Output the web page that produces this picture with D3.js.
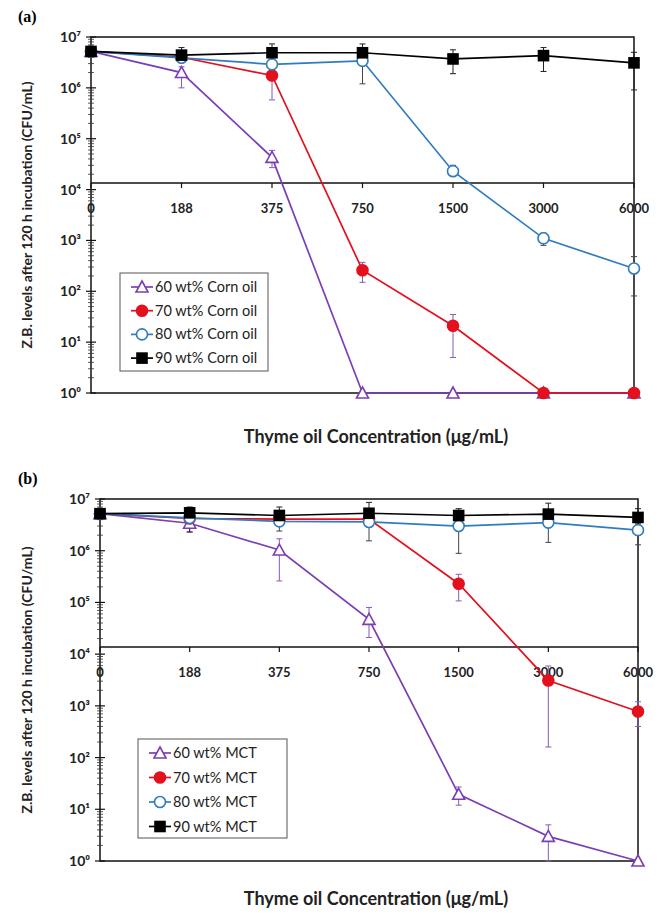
<!DOCTYPE html>
<html>
<head>
<meta charset="utf-8">
<script src="https://cdn.jsdelivr.net/npm/d3@7"></script>
<style>
  body { margin: 0; background: #fff; }
  text { font-family: Lato, "Open Sans", sans-serif; }
</style>
</head>
<body>
<svg id="chart" width="664" height="914"></svg>
<script>
// categories (thyme oil concentration, ug/mL)
var concentrations = ['0', '188', '375', '750', '1500', '3000', '6000'];
var yTicks = [1, 10, 100, 1000, 10000, 100000, 1000000, 10000000];

// panel (a) corn oil
var cornLabels = ['60 wt% Corn oil', '70 wt% Corn oil', '80 wt% Corn oil', '90 wt% Corn oil'];
var corn60 = [5.2e6, 2.0e6, 4.3e4, 1, 1, 1, 1];
var corn60Lo = [null, 1.0e6, 2.7e4, null, null, null, null];
var corn60Hi = [null, 2.6e6, 5.9e4, null, null, null, null];
var corn70 = [5.2e6, 4.0e6, 1.75e6, 260, 21, 1, 1];
var corn70Lo = [null, null, 5.8e5, 150, 5, null, null];
var corn70Hi = [null, null, 2.3e6, 370, 35, null, null];
var corn80 = [5.2e6, 3.9e6, 2.9e6, 3.4e6, 2.3e4, 1100, 280];
var corn80Lo = [null, null, null, 1.2e6, 1.9e4, 800, 81];
var corn80Hi = [null, null, null, 4.5e6, 3.0e4, 1400, 480];
var corn90 = [5.2e6, 4.4e6, 4.9e6, 4.9e6, 3.7e6, 4.3e6, 3.1e6];
var corn90Lo = [null, 3.3e6, 3.6e6, 3.6e6, 1.9e6, 2.1e6, 9.1e5];
var corn90Hi = [null, 6.2e6, 7.3e6, 7.3e6, 5.6e6, 6.2e6, 5.0e6];

// panel (b) MCT
var mctLabels = ['60 wt% MCT', '70 wt% MCT', '80 wt% MCT', '90 wt% MCT'];
var mct60 = [5.2e6, 3.4e6, 1.03e6, 4.7e4, 19.5, 3.0, 1];
var mct60Lo = [null, 2.3e6, 2.6e5, 2.1e4, 12, 1, null];
var mct60Hi = [null, 4.2e6, 1.7e6, 8.0e4, 27, 5, null];
var mct70 = [5.2e6, 4.2e6, 4.1e6, 4.1e6, 2.3e5, 3100, 780];
var mct70Lo = [null, null, null, null, 1.07e5, 160, 400];
var mct70Hi = [null, null, null, null, 3.5e5, 5900, 1200];
var mct80 = [5.2e6, 4.3e6, 3.7e6, 3.6e6, 3.0e6, 3.5e6, 2.5e6];
var mct80Lo = [null, null, 2.4e6, 1.55e6, 8.9e5, 1.45e6, 1.3e6];
var mct80Hi = [null, null, null, null, null, null, null];
var mct90 = [5.2e6, 5.4e6, 4.8e6, 5.3e6, 4.8e6, 5.1e6, 4.4e6];
var mct90Lo = [null, 2.3e6, 3.6e6, 3.9e6, 3.6e6, 3.8e6, 3.3e6];
var mct90Hi = [null, 7.0e6, 7.0e6, 8.6e6, 6.5e6, 8.3e6, 6.5e6];

var styles = [
  {color: '#7b3fb5', fill: '#fff', shape: 'triangle', err: '#8a5bb5'},
  {color: '#e3101e', fill: '#e3101e', shape: 'circle', err: '#8a5bb5'},
  {color: '#2f7cc0', fill: '#fff', shape: 'circle', err: '#444'},
  {color: '#000', fill: '#000', shape: 'square', err: '#222'}
];

var svg = d3.select('#chart');
var sup = {0: '\u2070', 1: '\u00b9', 2: '\u00b2', 3: '\u00b3', 4: '\u2074', 5: '\u2075', 6: '\u2076', 7: '\u2077'};

function marker(sel, st) {
  if (st.shape === 'circle') {
    sel.append('circle').attr('r', 5.5);
  } else if (st.shape === 'square') {
    sel.append('rect').attr('x', -5).attr('y', -5).attr('width', 10).attr('height', 10);
  } else {
    sel.append('path').attr('d', 'M0,-6L6,5L-6,5Z');
  }
  sel.selectAll('*')
    .style('fill', st.fill)
    .style('stroke', st.color)
    .style('stroke-width', 1.6);
}

function drawPanel(p) {
  var x = d3.scalePoint().domain(concentrations).range([p.left, p.right]);
  var y = d3.scaleLog().domain([1, 1e7]).range([p.bottom, p.top]);
  var g = svg.append('g');

  // panel letter
  g.append('text')
    .attr('x', 18).attr('y', p.top - 15)
    .style('font-family', '"Liberation Serif", serif')
    .style('font-weight', 'bold')
    .style('font-size', '16px')
    .text(p.letter);

  // frame
  g.append('rect')
    .attr('x', p.left).attr('y', p.top)
    .attr('width', p.right - p.left).attr('height', p.bottom - p.top)
    .style('fill', 'none').style('stroke', '#111').style('stroke-width', 1.5);

  // minor log ticks
  var minors = [];
  for (var e = 0; e < 7; e++) {
    for (var m = 2; m < 10; m++) minors.push(m * Math.pow(10, e));
  }
  g.selectAll('.minor').data(minors).enter().append('line')
    .attr('x1', p.left - 3).attr('x2', p.left + 3)
    .attr('y1', d => y(d)).attr('y2', d => y(d))
    .style('stroke', '#333').style('stroke-width', 0.8);
  g.selectAll('.major').data(yTicks).enter().append('line')
    .attr('x1', p.left - 5).attr('x2', p.left + 5)
    .attr('y1', d => y(d)).attr('y2', d => y(d))
    .style('stroke', '#111').style('stroke-width', 1.2);

  // y tick labels
  g.selectAll('.ylab').data(yTicks).enter().append('text')
    .attr('x', p.left - 10)
    .attr('y', d => y(d) + 5)
    .attr('text-anchor', 'end')
    .style('font-weight', 'bold')
    .style('font-size', '14px')
    .style('fill', '#222')
    .text(d => '10' + sup[Math.round(Math.log10(d))]);

  // x axis crossing the value axis
  var yc = y(p.crossAt);
  g.append('line')
    .attr('x1', p.left).attr('x2', p.right)
    .attr('y1', yc).attr('y2', yc)
    .style('stroke', '#111').style('stroke-width', 1.5);
  g.selectAll('.xt').data(concentrations).enter().append('line')
    .attr('x1', d => x(d)).attr('x2', d => x(d))
    .attr('y1', yc).attr('y2', yc + 5)
    .style('stroke', '#111').style('stroke-width', 1.2);
  g.selectAll('.xlab').data(concentrations).enter().append('text')
    .attr('x', d => x(d))
    .attr('y', yc + 30)
    .attr('text-anchor', 'middle')
    .style('font-weight', 'bold')
    .style('font-size', '13px')
    .style('fill', '#222')
    .text(d => d);

  // axis titles
  g.append('text')
    .attr('transform', 'translate(32,' + ((p.top + p.bottom) / 2) + ') rotate(-90)')
    .attr('text-anchor', 'middle')
    .style('font-weight', 'bold')
    .style('font-size', '14px')
    .style('fill', '#222')
    .text('Z.B. levels after 120 h incubation  (CFU/mL)');
  g.append('text')
    .attr('x', 376).attr('y', p.titleY)
    .attr('text-anchor', 'middle')
    .style('font-weight', 'bold')
    .style('font-size', '18px')
    .style('fill', '#222')
    .text('Thyme oil Concentration (\u03bcg/mL)');

  var line = d3.line().x((d, i) => x(concentrations[i])).y(d => y(d));

  // error bars
  p.series.forEach(function(s, k) {
    var st = styles[k];
    concentrations.forEach(function(c, i) {
      var lo = s.lo[i] != null ? s.lo[i] : s.values[i];
      var hi = s.hi[i] != null ? s.hi[i] : s.values[i];
      if (lo === hi) return;
      g.append('line')
        .attr('x1', x(c)).attr('x2', x(c))
        .attr('y1', y(lo)).attr('y2', y(hi))
        .style('stroke', st.err).style('stroke-width', 1);
      [s.lo[i], s.hi[i]].forEach(function(v) {
        if (v == null) return;
        g.append('line')
          .attr('x1', x(c) - 3).attr('x2', x(c) + 3)
          .attr('y1', y(v)).attr('y2', y(v))
          .style('stroke', st.err).style('stroke-width', 1);
      });
    });
  });

  // lines and markers
  p.series.forEach(function(s, k) {
    var st = styles[k];
    g.append('path')
      .datum(s.values)
      .attr('d', line)
      .style('fill', 'none')
      .style('stroke', st.color)
      .style('stroke-width', 1.7);
    g.selectAll('.m' + k).data(s.values).enter().append('g')
      .attr('transform', (d, i) => 'translate(' + x(concentrations[i]) + ',' + y(d) + ')')
      .each(function() { marker(d3.select(this), st); });
  });

  // legend
  var lg = g.append('g');
  lg.append('rect')
    .attr('x', p.legX).attr('y', p.legY)
    .attr('width', p.legW).attr('height', p.legH)
    .style('fill', '#fff').style('stroke', '#555').style('stroke-width', 1);
  p.labels.forEach(function(lab, k) {
    var st = styles[k];
    var ly = p.legY + 14 + k * p.legStep;
    lg.append('line')
      .attr('x1', p.legX + 11).attr('x2', p.legX + 33)
      .attr('y1', ly).attr('y2', ly)
      .style('stroke', st.color).style('stroke-width', 1.7);
    var mk = lg.append('g').attr('transform', 'translate(' + (p.legX + 22) + ',' + ly + ')');
    marker(mk, st);
    lg.append('text')
      .attr('x', p.legX + 35).attr('y', ly + 5)
      .style('font-size', '14.5px')
      .style('fill', '#222')
      .text(lab);
  });
}

drawPanel({
  letter: '(a)', left: 91, right: 634, top: 37, bottom: 393, crossAt: 1.35e4, titleY: 443,
  labels: cornLabels,
  legX: 120, legY: 273, legW: 148, legH: 98, legStep: 23.7,
  series: [
    {values: corn60, lo: corn60Lo, hi: corn60Hi},
    {values: corn70, lo: corn70Lo, hi: corn70Hi},
    {values: corn80, lo: corn80Lo, hi: corn80Hi},
    {values: corn90, lo: corn90Lo, hi: corn90Hi}
  ]
});

drawPanel({
  letter: '(b)', left: 100, right: 638, top: 499, bottom: 861, crossAt: 1.38e4, titleY: 905,
  labels: mctLabels,
  legX: 138, legY: 739, legW: 149, legH: 99, legStep: 24.5,
  series: [
    {values: mct60, lo: mct60Lo, hi: mct60Hi},
    {values: mct70, lo: mct70Lo, hi: mct70Hi},
    {values: mct80, lo: mct80Lo, hi: mct80Hi},
    {values: mct90, lo: mct90Lo, hi: mct90Hi}
  ]
});
</script>
</body>
</html>
